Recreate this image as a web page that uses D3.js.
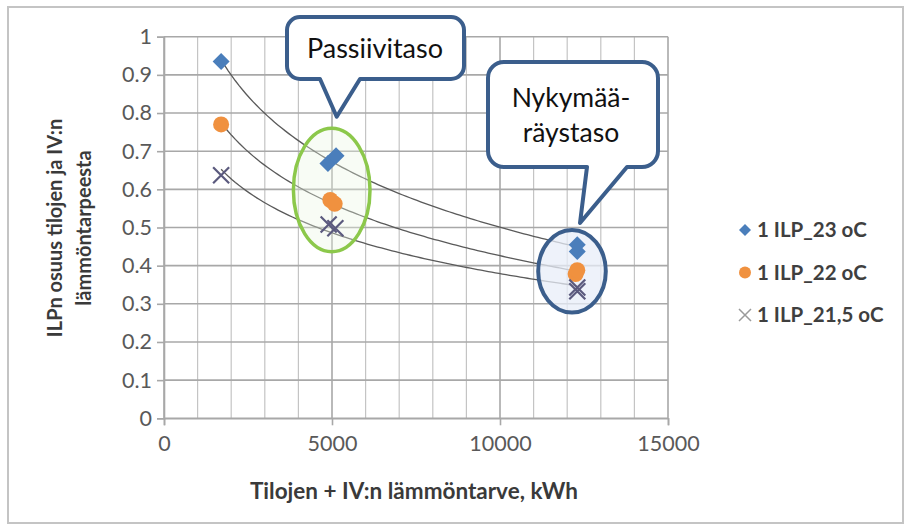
<!DOCTYPE html>
<html><head><meta charset="utf-8">
<script src="https://cdn.jsdelivr.net/npm/d3@7"></script>
<style>body{margin:0;background:#fff}svg{display:block}</style>
</head><body>
<script>
const seriesNames = ["1 ILP_23 oC", "1 ILP_22 oC", "1 ILP_21,5 oC"];
const s23 = [[1700,0.935],[4880,0.668],[5120,0.688],[12300,0.437],[12300,0.455]];
const s22 = [[1700,0.77],[4950,0.572],[5080,0.562],[12250,0.378],[12300,0.388]];
const s215 = [[1700,0.637],[4900,0.508],[5100,0.498],[12300,0.333],[12300,0.343]];
const xTicks = [0,5000,10000,15000];
const xMinor = [0,1000,2000,3000,4000,5000,6000,7000,8000,9000,10000,11000,12000,13000,14000,15000];
const yTicks = [0,0.1,0.2,0.3,0.4,0.5,0.6,0.7,0.8,0.9,1];
const callout1 = ["Passiivitaso"];
const callout2 = ["Nykymää-", "räystaso"];
const xTitle = "Tilojen + IV:n lämmöntarve, kWh";
const yTitle = ["ILPn osuus tilojen ja IV:n", "lämmöntarpeesta"];

const W = 910, H = 531;
const svg = d3.select("body").append("svg").attr("width", W).attr("height", H);
const FONT = "Lato, 'Open Sans', sans-serif";

// outer chart border
svg.append("rect").attr("x", 8).attr("y", 7).attr("width", 895).attr("height", 516)
  .attr("fill", "#fff").attr("stroke", "#c4c4c4").attr("stroke-width", 2);

const x = d3.scaleLinear().domain([0,15000]).range([164,668]);
const y = d3.scaleLinear().domain([0,1]).range([418.3,36.7]);

// grid
const g = svg.append("g");
g.selectAll(".vg").data(xMinor).join("line")
  .attr("x1", d => x(d)).attr("x2", d => x(d)).attr("y1", y(0)).attr("y2", y(1))
  .attr("stroke", d => xTicks.includes(d) ? "#a8a8a8" : "#c4c4c4")
  .attr("stroke-width", d => xTicks.includes(d) ? 1.6 : 1.2);
g.selectAll(".hg").data(yTicks).join("line")
  .attr("x1", x(0)).attr("x2", x(15000)).attr("y1", d => y(d)).attr("y2", d => y(d))
  .attr("stroke", "#a8a8a8").attr("stroke-width", 1.6);

// axes
const yAxis = d3.axisLeft(y).tickValues(yTicks).tickSize(7).tickPadding(5).tickFormat(d => d === 0 || d === 1 ? String(d) : d.toFixed(1));
const ya = svg.append("g").attr("transform", `translate(${x(0)},0)`).call(yAxis);
const xAxis = d3.axisBottom(x).tickValues(xTicks).tickSize(7).tickPadding(10).tickFormat(d => String(d));
const xa = svg.append("g").attr("transform", `translate(0,${y(0)})`).call(xAxis);
[ya, xa].forEach(a => {
  a.select(".domain").attr("stroke", "#a8a8a8").attr("stroke-width", 1.6);
  a.selectAll(".tick line").attr("stroke", "#a8a8a8").attr("stroke-width", 1.6);
  a.selectAll("text").attr("fill", "#595959").style("font-family", FONT).style("font-size", "21.5px");
});

// trendlines (logarithmic least-squares fit of each series)
function logFit(pts) {
  const lx = pts.map(p => Math.log(p[0])), ys = pts.map(p => p[1]);
  const mx = d3.mean(lx), my = d3.mean(ys);
  let sxy = 0, sxx = 0;
  lx.forEach((v,i) => { sxy += (v-mx)*(ys[i]-my); sxx += (v-mx)*(v-mx); });
  const b = sxy/sxx, a = my - b*mx;
  const [x0, x1] = d3.extent(pts, p => p[0]);
  return d3.range(0, 101).map(i => { const xv = x0 + (x1-x0)*i/100; return [xv, a + b*Math.log(xv)]; });
}
const line = d3.line().x(d => x(d[0])).y(d => y(d[1])).curve(d3.curveLinear);
[s23, s22, s215].forEach(s => {
  svg.append("path").attr("d", line(logFit(s))).attr("fill", "none")
    .attr("stroke", "#5a5a5a").attr("stroke-width", 1.3);
});

// ellipse fills
svg.append("ellipse").attr("cx", 331.7).attr("cy", 190).attr("rx", 38.3).attr("ry", 61.7)
  .attr("fill", "rgba(236,246,226,0.35)");
svg.append("ellipse").attr("cx", 572).attr("cy", 271.3).attr("rx", 33.8).attr("ry", 41.3)
  .attr("fill", "rgba(232,238,248,0.75)");

// markers
const blue = "#4a7ebb", orange = "#f0913f", xcol = "#5b5a7e";
const diamond = r => `M0,${-r}L${r},0L0,${r}L${-r},0Z`;
svg.append("g").selectAll("path").data(s23).join("path")
  .attr("transform", d => `translate(${x(d[0])},${y(d[1])})`)
  .attr("d", diamond(8.5)).attr("fill", blue);
svg.append("g").selectAll("circle").data(s22).join("circle")
  .attr("cx", d => x(d[0])).attr("cy", d => y(d[1])).attr("r", 8).attr("fill", orange);
svg.append("g").selectAll("path").data(s215).join("path")
  .attr("transform", d => `translate(${x(d[0])},${y(d[1])})`)
  .attr("d", "M-8,-8L8,8M-8,8L8,-8").attr("stroke", xcol).attr("stroke-width", 2.2).attr("fill", "none");

// ellipse strokes
svg.append("ellipse").attr("cx", 331.7).attr("cy", 190).attr("rx", 38.3).attr("ry", 61.7)
  .attr("fill", "none").attr("stroke", "#8cc84b").attr("stroke-width", 3.5);
svg.append("ellipse").attr("cx", 572).attr("cy", 271.3).attr("rx", 33.8).attr("ry", 41.3)
  .attr("fill", "none").attr("stroke", "#3b5e8c").attr("stroke-width", 4);

// callouts
function callout(x0, y0, x1, y1, r, bx0, bx1, tx, ty) {
  const p = d3.path();
  p.moveTo(x0 + r, y0);
  p.lineTo(x1 - r, y0); p.arcTo(x1, y0, x1, y0 + r, r);
  p.lineTo(x1, y1 - r); p.arcTo(x1, y1, x1 - r, y1, r);
  p.lineTo(bx1, y1); p.lineTo(tx, ty); p.lineTo(bx0, y1);
  p.lineTo(x0 + r, y1); p.arcTo(x0, y1, x0, y1 - r, r);
  p.lineTo(x0, y0 + r); p.arcTo(x0, y0, x0 + r, y0, r);
  p.closePath();
  return p.toString();
}
svg.append("path").attr("d", callout(287, 17, 464, 79, 13, 320, 360, 336.7, 116.7))
  .attr("fill", "#fff").attr("stroke", "#3b5e8c").attr("stroke-width", 4).attr("stroke-linejoin", "round");
svg.append("path").attr("d", callout(488, 62, 658, 167, 16, 587, 627, 580, 223))
  .attr("fill", "#fff").attr("stroke", "#3b5e8c").attr("stroke-width", 4).attr("stroke-linejoin", "round");
svg.append("text").attr("x", 375).attr("y", 58).attr("text-anchor", "middle")
  .style("font-family", FONT).style("font-size", "27px").attr("fill", "#111").text(callout1[0]);
svg.append("g").selectAll("text").data(callout2).join("text")
  .attr("x", 571).attr("y", (d,i) => 107 + i*35).attr("text-anchor", "middle")
  .style("font-family", FONT).style("font-size", "26.5px").attr("fill", "#111").text(d => d);

// axis titles
svg.append("text").attr("x", 414).attr("y", 499).attr("text-anchor", "middle")
  .style("font-family", FONT).style("font-size", "22.5px").style("font-weight", "bold")
  .attr("fill", "#3a3a3a").text(xTitle);
svg.append("g").attr("transform", "translate(62,228) rotate(-90)")
  .selectAll("text").data(yTitle).join("text")
  .attr("x", 0).attr("y", (d,i) => i*29).attr("text-anchor", "middle")
  .style("font-family", FONT).style("font-size", "20px").style("font-weight", "bold")
  .attr("fill", "#3a3a3a").text(d => d);

// legend
const legY = [230, 272.5, 315];
const lg = svg.append("g");
seriesNames.forEach((n, i) => {
  const cy = legY[i];
  if (i === 0) lg.append("path").attr("transform", `translate(745,${cy})`).attr("d", diamond(6)).attr("fill", blue);
  if (i === 1) lg.append("circle").attr("cx", 745).attr("cy", cy).attr("r", 6).attr("fill", orange);
  if (i === 2) lg.append("path").attr("transform", `translate(745,${cy})`).attr("d", "M-6,-6L6,6M-6,6L6,-6")
    .attr("stroke", "#9a9a9a").attr("stroke-width", 1.5);
  lg.append("text").attr("x", 757).attr("y", cy + 7)
    .style("font-family", FONT).style("font-size", "20.5px").style("font-weight", "bold")
    .attr("fill", "#3f3f3f").text(n);
});
</script>
</body></html>
